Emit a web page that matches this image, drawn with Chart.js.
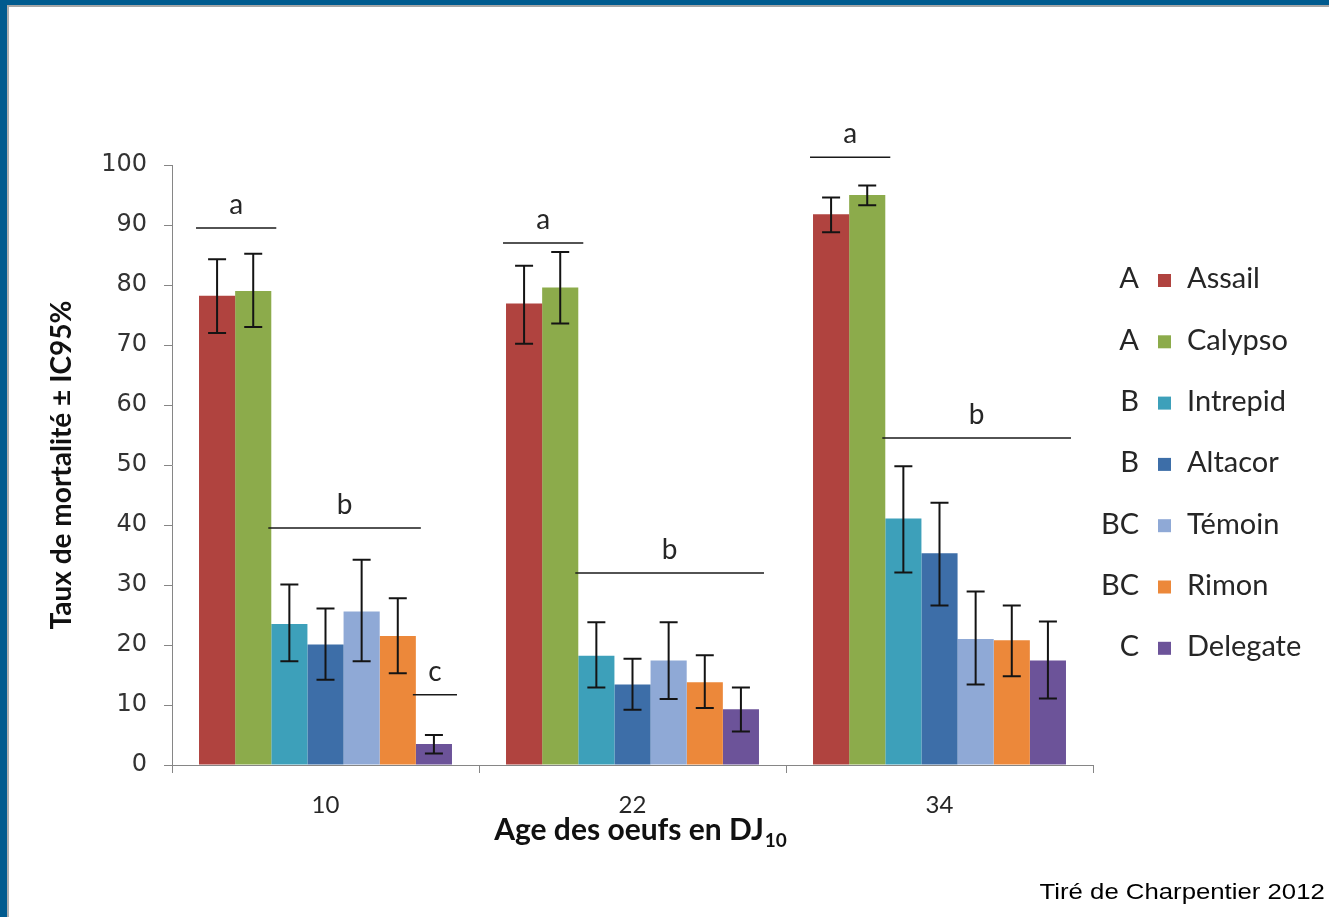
<!DOCTYPE html>
<html><head><meta charset="utf-8">
<script src="https://cdn.jsdelivr.net/npm/chart.js@4/dist/chart.umd.min.js"></script>
<style>
html,body{margin:0;padding:0;background:#fff;width:1329px;height:917px;overflow:hidden;}
#frame{position:absolute;left:0;top:0;width:1329px;height:917px;box-sizing:border-box;border-top:5px solid #005b8f;border-left:7px solid #005b8f;}
#inner{position:absolute;left:0;top:0;right:0;bottom:0;border-top:2px solid #a6a6a6;border-left:2px solid #b0b0b0;}
#wrap{position:absolute;left:0;top:0;width:1329px;height:917px;}
#credit{position:absolute;right:4px;top:880px;font:22px "Liberation Sans",Arial,sans-serif;line-height:24px;color:#000;white-space:nowrap;transform:scaleX(1.17);transform-origin:right center;}
</style></head>
<body>
<div id="frame"><div id="inner"></div></div>
<div id="wrap"><canvas id="c" width="1329" height="917"></canvas>
<div id="credit">Tiré de Charpentier 2012</div></div>
<script>
// ---- data ----
const categories = ['10', '22', '34'];
const seriesNames = ['Assail', 'Calypso', 'Intrepid', 'Altacor', 'Témoin', 'Rimon', 'Delegate'];
const seriesGroups = ['A', 'A', 'B', 'B', 'BC', 'BC', 'C'];

const assail   = [78.2, 76.9, 91.8];
const calypso  = [79.0, 79.6, 95.0];
const intrepid = [23.5, 18.2, 41.1];
const altacor  = [20.1, 13.4, 35.3];
const temoin   = [25.6, 17.4, 21.0];
const rimon    = [21.5, 13.8, 20.8];
const delegate = [3.5, 9.3, 17.4];

const assailCI   = [[72.0, 84.3], [70.2, 83.2], [88.8, 94.6]];
const calypsoCI  = [[73.0, 85.2], [73.6, 85.5], [93.3, 96.6]];
const intrepidCI = [[17.3, 30.1], [12.9, 23.8], [32.1, 49.8]];
const altacorCI  = [[14.2, 26.1], [9.2, 17.7], [26.6, 43.7]];
const temoinCI   = [[17.3, 34.2], [11.0, 23.8], [13.4, 28.9]];
const rimonCI    = [[15.3, 27.8], [9.5, 18.3], [14.8, 26.6]];
const delegateCI = [[1.9, 5.0], [5.6, 12.9], [11.1, 23.9]];

// significance groups per age: letter, first series, last series, level
const sigAge10 = [['a', 0, 1, 89.5], ['b', 2, 5, 39.5], ['c', 6, 6, 11.7]];
const sigAge22 = [['a', 0, 1, 87.0], ['b', 2, 6, 32.0]];
const sigAge34 = [['a', 0, 1, 101.3], ['b', 2, 6, 54.5]];

const yTicks = [0, 10, 20, 30, 40, 50, 60, 70, 80, 90, 100];

// ---- styling ----
const seriesValues = [assail, calypso, intrepid, altacor, temoin, rimon, delegate];
const seriesCI = [assailCI, calypsoCI, intrepidCI, altacorCI, temoinCI, rimonCI, delegateCI];
const sigByCat = [sigAge10, sigAge22, sigAge34];
const colors = ['#B0433F', '#8CAB4B', '#3DA0BA', '#3D6EA8', '#8FA9D6', '#EC883A', '#6C5399'];
const axisColor = '#868686';
const textColor = '#262626';
const FONT = 'Lato, "Open Sans", sans-serif';

const datasets = seriesValues.map((v, i) => ({
  label: seriesNames[i],
  data: v,
  backgroundColor: colors[i],
  borderWidth: 0,
  categoryPercentage: 0.824,
  barPercentage: 1.0
}));

const errorBars = {
  id: 'errorBars',
  afterDatasetsDraw(chart) {
    const ctx = chart.ctx, y = chart.scales.y;
    ctx.save();
    ctx.strokeStyle = '#141414';
    ctx.lineWidth = 2;
    chart.data.datasets.forEach((ds, i) => {
      const meta = chart.getDatasetMeta(i);
      meta.data.forEach((bar, j) => {
        const [lo, hi] = seriesCI[i][j];
        const x = bar.x, y1 = y.getPixelForValue(lo), y2 = y.getPixelForValue(hi);
        const cap = 9;
        ctx.beginPath();
        ctx.moveTo(x, y1); ctx.lineTo(x, y2);
        ctx.moveTo(x - cap, y1); ctx.lineTo(x + cap, y1);
        ctx.moveTo(x - cap, y2); ctx.lineTo(x + cap, y2);
        ctx.stroke();
      });
    });
    ctx.restore();
  }
};

const sigPlugin = {
  id: 'sig',
  afterDatasetsDraw(chart) {
    const ctx = chart.ctx, y = chart.scales.y;
    ctx.save();
    ctx.strokeStyle = '#1a1a1a';
    ctx.fillStyle = textColor;
    ctx.lineWidth = 1.6;
    ctx.font = '28px ' + FONT;
    ctx.textAlign = 'center';
    ctx.textBaseline = 'alphabetic';
    sigByCat.forEach((list, c) => {
      list.forEach(([letter, from, to, level]) => {
        const b1 = chart.getDatasetMeta(from).data[c];
        const b2 = chart.getDatasetMeta(to).data[c];
        const x1 = b1.x - b1.width / 2 - 3, x2 = b2.x + b2.width / 2 + 5;
        const yy = y.getPixelForValue(level);
        ctx.beginPath(); ctx.moveTo(x1, yy); ctx.lineTo(x2, yy); ctx.stroke();
        ctx.fillText(letter, (x1 + x2) / 2, yy - 14);
      });
    });
    ctx.restore();
  }
};

const legendPlugin = {
  id: 'sideLegend',
  afterDraw(chart) {
    const ctx = chart.ctx;
    ctx.save();
    const x0 = chart.chartArea.right;
    seriesNames.forEach((name, i) => {
      const cy = 279 + i * 61.3;
      ctx.font = '29px ' + FONT;
      ctx.fillStyle = textColor;
      ctx.textBaseline = 'middle';
      ctx.textAlign = 'right';
      ctx.fillText(seriesGroups[i], x0 + 46, cy);
      ctx.fillStyle = colors[i];
      ctx.fillRect(x0 + 65, cy - 5, 13, 13);
      ctx.fillStyle = textColor;
      ctx.textAlign = 'left';
      ctx.fillText(name, x0 + 94, cy);
    });
    ctx.restore();
  }
};

const xTitle = {
  id: 'xTitle',
  afterDraw(chart) {
    const ctx = chart.ctx;
    ctx.save();
    const main = 'Age des oeufs en DJ', sub = '10';
    const f1 = 'bold 30px ' + FONT, f2 = 'bold 19px ' + FONT;
    ctx.font = f1; const w1 = ctx.measureText(main).width;
    ctx.font = f2; const w2 = ctx.measureText(sub).width;
    const cx = 640;
    const x = cx - (w1 + w2) / 2, base = 840;
    ctx.fillStyle = '#111';
    ctx.textBaseline = 'alphabetic';
    ctx.textAlign = 'left';
    ctx.font = f1; ctx.fillText(main, x, base);
    ctx.font = f2; ctx.fillText(sub, x + w1 + 1, base + 7);
    ctx.restore();
  }
};

new Chart(document.getElementById('c'), {
  type: 'bar',
  data: { labels: categories, datasets },
  options: {
    responsive: false,
    devicePixelRatio: 1,
    animation: false,
    layout: { padding: { left: 0, top: 165, right: 236, bottom: 0 } },
    plugins: { legend: { display: false }, tooltip: { enabled: false } },
    scales: {
      x: {
        offset: true,
        grid: { offset: true, drawOnChartArea: false, drawTicks: true, tickLength: 8, color: axisColor },
        border: { display: true, color: axisColor, width: 1 },
        ticks: { color: textColor, font: { family: FONT, size: 24 }, padding: 18 },
        afterFit(s) { s.height = 152; }
      },
      y: {
        min: 0, max: 100,
        afterBuildTicks(s) { s.ticks = yTicks.map(v => ({ value: v })); },
        grid: { drawOnChartArea: false, drawTicks: true, tickLength: 8, color: axisColor },
        border: { display: true, color: axisColor, width: 1 },
        ticks: { color: '#333', font: { family: '"DejaVu Sans", sans-serif', size: 24 }, padding: 17 },
        title: { display: true, text: 'Taux de mortalité ± IC95%', color: '#111',
                 font: { family: FONT, size: 28, weight: 'bold' }, padding: { top: 45, bottom: 0 } },
        afterFit(s) { s.width = 172; }
      }
    }
  },
  plugins: [errorBars, sigPlugin, legendPlugin, xTitle]
});
</script>
</body></html>
